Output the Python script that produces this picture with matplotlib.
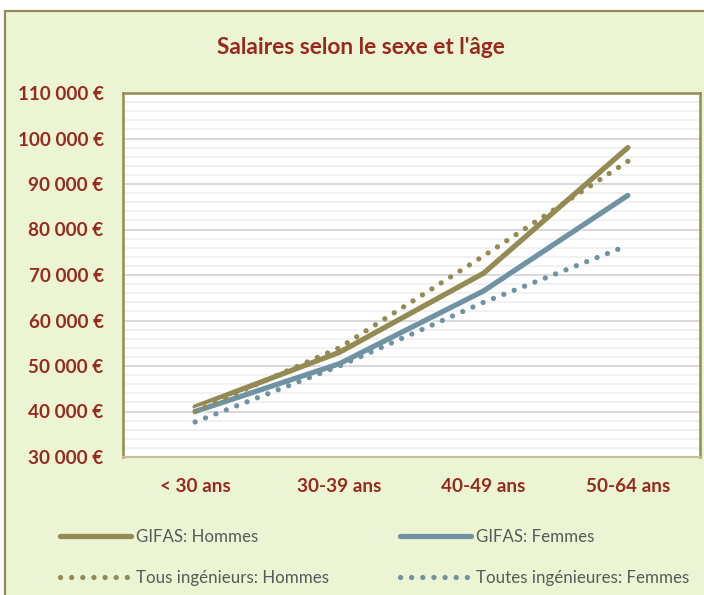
import numpy as np
import matplotlib.pyplot as plt
from matplotlib.patches import Rectangle
from matplotlib.lines import Line2D
from matplotlib.ticker import MultipleLocator, FuncFormatter
import matplotlib.patheffects as pe

plt.rcParams['font.family'] = ['Lato', 'DejaVu Sans']

# ── Data ─────────────────────────────────────
ages = ["< 30 ans", "30-39 ans", "40-49 ans", "50-64 ans"]
gifas_hommes  = [41000, 53000, 70400, 98000]
gifas_femmes  = [40000, 50500, 66500, 87500]
tous_hommes   = [40000, 54000, 74200, 95000]
toutes_femmes = [37700, 50000, 64000, 76500]

brown = "#948A54"
blue  = "#7093A3"
red   = "#97291E"
grey  = "#595959"
DOTS  = (0, (0.01, 2.1))

fig = plt.figure(figsize=(7.04, 5.95), dpi=100)
fig.patch.set_facecolor("white")

# chart frame (green area with olive border)
fig.patches.append(Rectangle((5 / 704, -0.2), 1.2, 1.2 - 11 / 595,
                             transform=fig.transFigure, facecolor="#EBF5D3",
                             edgecolor=brown, linewidth=1.6, zorder=-10))

ax = fig.add_axes([123 / 704, 1 - 457 / 595, 577 / 704, 364 / 595])
ax.set_facecolor("white")

x = np.arange(len(ages))
ax.plot(x, gifas_hommes, color=brown, linewidth=3.8, solid_capstyle="round", zorder=3)
ax.plot(x, gifas_femmes, color=blue, linewidth=3.8, solid_capstyle="round", zorder=4,
        path_effects=[pe.Stroke(linewidth=5.0, foreground="white"), pe.Normal()])
ax.plot(x, tous_hommes, color=brown, linewidth=3.8, linestyle=DOTS,
        dash_capstyle="round", zorder=5)
ax.plot(x, toutes_femmes, color=blue, linewidth=3.8, linestyle=DOTS,
        dash_capstyle="round", zorder=5)

ax.set_xlim(-0.5, 3.5)
ax.set_ylim(30000, 110000)
ax.yaxis.set_major_locator(MultipleLocator(10000))
ax.yaxis.set_minor_locator(MultipleLocator(2000))
ax.yaxis.set_major_formatter(FuncFormatter(lambda v, p: f"{int(v):,} €".replace(",", " ")))
ax.grid(which="major", axis="y", color="#D9D9D9", linewidth=1.5)
ax.grid(which="minor", axis="y", color="#EFEFEF", linewidth=1.2)
ax.set_axisbelow(True)

ax.set_xticks(x)
ax.set_xticklabels(ages)
ax.tick_params(axis="both", which="both", length=0)
ax.tick_params(axis="y", pad=14, labelsize=13.6, labelcolor=red)
ax.tick_params(axis="x", pad=15, labelsize=13.6, labelcolor=red)
for lab in ax.get_xticklabels() + ax.get_yticklabels():
    lab.set_fontweight("bold")

for side in ["left", "top", "right"]:
    ax.spines[side].set_color(brown)
    ax.spines[side].set_linewidth(1.8)
ax.spines["bottom"].set_color("#C4BD97")
ax.spines["bottom"].set_linewidth(1.5)

fig.text(361 / 704, 1 - 47 / 595, "Salaires selon le sexe et l'âge", ha="center", va="center",
         fontsize=16.3, fontweight="bold", color=red)

# ── Legend (two columns) ──────────────────────
h_gh = Line2D([], [], color=brown, linewidth=3.8, solid_capstyle="round")
h_gf = Line2D([], [], color=blue, linewidth=3.8, solid_capstyle="round")
h_th = Line2D([], [], color=brown, linewidth=3.8, linestyle=DOTS, dash_capstyle="round")
h_tf = Line2D([], [], color=blue, linewidth=3.8, linestyle=DOTS, dash_capstyle="round")

leg_kw = dict(loc="upper left", frameon=False, fontsize=12.2, labelcolor=grey,
              handlelength=4.2, handletextpad=0.3, labelspacing=1.5, borderpad=0,
              borderaxespad=0)
fig.legend([h_gh, h_th], ["GIFAS: Hommes", "Tous ingénieurs: Hommes"],
           bbox_to_anchor=(60 / 704, 1 - 529 / 595), **leg_kw)
fig.legend([h_gf, h_tf], ["GIFAS: Femmes", "Toutes ingénieures: Femmes"],
           bbox_to_anchor=(400 / 704, 1 - 529 / 595), **leg_kw)

plt.savefig("out.png", dpi=100)
